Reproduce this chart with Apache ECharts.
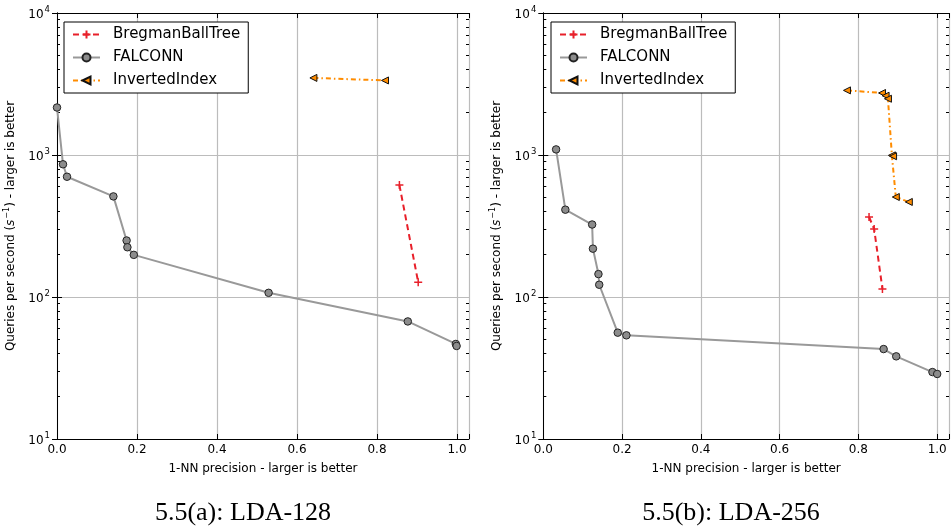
<!DOCTYPE html>
<html>
<head>
<meta charset="utf-8">
<script src="https://cdn.jsdelivr.net/npm/echarts@6/dist/echarts.min.js"></script>
<style>html,body{margin:0;padding:0;background:#fff}#c{width:952px;height:529px}</style>
</head>
<body>
<div id="c"></div>
<script>
// ---- data: chart (a) LDA-128 ----
const A_BREG_X = [0.856, 0.903];
const A_BREG_Y = [615, 127];
const A_FALC_X = [0.0, 0.015, 0.025, 0.141, 0.174, 0.176, 0.192, 0.529, 0.877, 0.997, 0.999];
const A_FALC_Y = [2160, 860, 703, 511, 250, 224, 198, 107, 67.3, 46.7, 45.2];
const A_INV_X = [0.641, 0.820];
const A_INV_Y = [3490, 3350];
// ---- data: chart (b) LDA-256 ----
const B_BREG_X = [0.827, 0.840, 0.861];
const B_BREG_Y = [366, 301, 114];
const B_FALC_X = [0.0325, 0.056, 0.124, 0.126, 0.140, 0.142, 0.189, 0.211, 0.864, 0.896, 0.988, 1.0];
const B_FALC_Y = [1095, 412, 324, 219, 145, 122, 56.1, 53.7, 43.0, 38.2, 29.6, 28.7];
const B_INV_X = [0.771, 0.860, 0.869, 0.875, 0.885, 0.888, 0.895, 0.928];
const B_INV_Y = [2851, 2733, 2616, 2490, 994, 980, 506, 467];
// ---- labels / ticks ----
const SERIES_NAMES = ['BregmanBallTree', 'FALCONN', 'InvertedIndex'];
const CAPTIONS = ['5.5(a): LDA-128', '5.5(b): LDA-256'];
const X_TITLE = '1-NN precision - larger is better';
const X_TICKS = [0, 0.2, 0.4, 0.6, 0.8, 1.0];
const Y_MINOR = [20,30,40,50,60,70,80,90,200,300,400,500,600,700,800,900,2000,3000,4000,5000,6000,7000,8000,9000];

const zip = (xs, ys) => xs.map((x, i) => [x, ys[i]]);
const chartData = [
  [zip(A_BREG_X, A_BREG_Y), zip(A_FALC_X, A_FALC_Y), zip(A_INV_X, A_INV_Y)],
  [zip(B_BREG_X, B_BREG_Y), zip(B_FALC_X, B_FALC_Y), zip(B_INV_X, B_INV_Y)]
];
const minorLog = Y_MINOR.map(v => Math.log10(v));

const FONT = 'DejaVu Sans';
const grids = [
  {left: 57, top: 13, width: 412, height: 426},
  {left: 543.3, top: 13, width: 413, height: 426}
];
const xAxes = [], yAxes = [], series = [];
const gridLine = {show: true, lineStyle: {color: '#bcbcbc', width: 1.2}};
const blackLine = {show: true, lineStyle: {color: '#000', width: 1}};

grids.forEach((g, c) => {
  const xbase = {type: 'value', gridIndex: c, min: 0, max: 1.03, interval: 0.2};
  xAxes.push(Object.assign({}, xbase, {
    position: 'bottom',
    axisLine: blackLine,
    axisTick: {show: true, inside: true, length: 5, lineStyle: {color: '#000'}},
    axisLabel: {
      color: '#000', fontSize: 12, fontFamily: FONT, margin: 5,
      formatter: v => X_TICKS.some(t => Math.abs(t - v) < 1e-6) ? v.toFixed(1) : ''
    },
    splitLine: gridLine,
    name: X_TITLE, nameLocation: 'middle', nameGap: 24,
    nameTextStyle: {color: '#000', fontSize: 12, fontFamily: FONT}
  }));
  xAxes.push(Object.assign({}, xbase, {
    position: 'top',
    axisLine: blackLine,
    axisTick: {show: true, inside: true, length: 5, lineStyle: {color: '#000'}},
    axisLabel: {show: false}, splitLine: {show: false}
  }));
  const ybase = {type: 'log', gridIndex: c, min: 10, max: 10000, logBase: 10};
  yAxes.push(Object.assign({}, ybase, {
    position: 'left',
    axisLine: blackLine,
    axisTick: {show: true, inside: true, length: 5, lineStyle: {color: '#000'}},
    axisLabel: {
      color: '#000', margin: 7,
      formatter: v => '{b|10}{s|' + Math.round(Math.log10(v)) + '}',
      rich: {
        b: {fontSize: 12, fontFamily: FONT, color: '#000', verticalAlign: 'bottom'},
        s: {fontSize: 8.5, fontFamily: FONT, color: '#000', verticalAlign: 'bottom', padding: [0, 0, 7, 1]}
      }
    },
    splitLine: gridLine,
    name: '{t|Queries per second (}{i|s}{p|−1}{t|) - larger is better}',
    nameLocation: 'middle', nameGap: 40,
    nameTextStyle: {
      color: '#000',
      rich: {
        t: {fontSize: 12, fontFamily: FONT, color: '#000', verticalAlign: 'bottom'},
        i: {fontSize: 12, fontFamily: FONT, fontStyle: 'italic', color: '#000', verticalAlign: 'bottom'},
        p: {fontSize: 8, fontFamily: FONT, color: '#000', verticalAlign: 'bottom', padding: [0, 0, 6, 1]}
      }
    }
  }));
  yAxes.push(Object.assign({}, ybase, {
    position: 'right', axisLine: blackLine,
    axisTick: {show: true, inside: true, length: 5, lineStyle: {color: '#000'}},
    axisLabel: {show: false}, splitLine: {show: false}
  }));
  // minor ticks (log positions expressed in decades on a linear helper axis)
  ['left', 'right'].forEach(pos => {
    yAxes.push({
      type: 'value', gridIndex: c, min: 1, max: 4, position: pos,
      axisLine: {show: false},
      axisTick: {show: true, inside: true, length: 3, customValues: minorLog, lineStyle: {color: '#000'}},
      axisLabel: {show: false}, splitLine: {show: false}
    });
  });

  const d = chartData[c];
  const yi = c * 4;
  series.push({
    name: SERIES_NAMES[0], type: 'line', xAxisIndex: c * 2, yAxisIndex: yi,
    data: d[0], symbol: 'path://M0,5L10,5M5,0L5,10', symbolSize: 8,
    lineStyle: {color: '#e8202a', width: 2, type: [6, 4]},
    itemStyle: {color: 'rgba(0,0,0,0)', borderColor: '#e8202a', borderWidth: 1.5},
    animation: false, z: 3
  });
  series.push({
    name: SERIES_NAMES[1], type: 'line', xAxisIndex: c * 2, yAxisIndex: yi,
    data: d[1], symbol: 'circle', symbolSize: 7.5,
    lineStyle: {color: '#999999', width: 2},
    itemStyle: {color: '#8c8c8c', borderColor: '#222', borderWidth: 1},
    animation: false, z: 4
  });
  series.push({
    name: SERIES_NAMES[2], type: 'line', xAxisIndex: c * 2, yAxisIndex: yi,
    data: d[2], symbol: 'triangle', symbolRotate: 90, symbolSize: 7,
    lineStyle: {color: '#ff8c00', width: 2, type: [5, 3, 1.5, 3]},
    itemStyle: {color: '#ff8c00', borderColor: '#111', borderWidth: 1},
    animation: false, z: 5
  });
});

const legendBase = {
  orient: 'vertical', top: 22, itemWidth: 27, itemHeight: 10, itemGap: 8,
  padding: [5, 8, 5, 8], borderColor: '#000', borderWidth: 1, backgroundColor: '#fff',
  borderRadius: 0,
  textStyle: {fontSize: 15, fontFamily: FONT, color: '#000', padding: [0, 0, 0, 8]},
  data: SERIES_NAMES
};
const captionStyle = {fontFamily: 'Liberation Serif', fontSize: 26, fontWeight: 'normal', color: '#000'};
const chart = echarts.init(document.getElementById('c'), null, {renderer: 'canvas'});
chart.setOption({
  animation: false,
  backgroundColor: '#fff',
  grid: grids,
  xAxis: xAxes,
  yAxis: yAxes,
  legend: [Object.assign({left: 64}, legendBase), Object.assign({left: 551}, legendBase)],
  title: [
    {text: CAPTIONS[0], left: 238, top: 495, textAlign: 'center', textStyle: captionStyle},
    {text: CAPTIONS[1], left: 726, top: 495, textAlign: 'center', textStyle: captionStyle}
  ],
  series: series
});
</script>
</body>
</html>
